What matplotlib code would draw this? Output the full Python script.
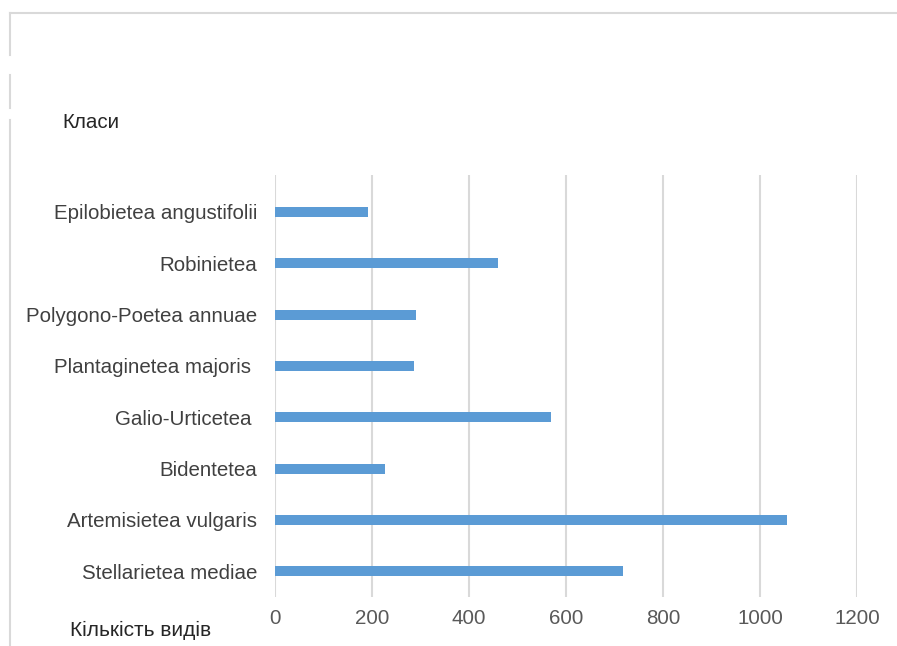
import matplotlib.pyplot as plt
from matplotlib.lines import Line2D

classes = ['Stellarietea mediae', 'Artemisietea vulgaris', 'Bidentetea',
           'Galio-Urticetea ', 'Plantaginetea majoris ', 'Polygono-Poetea annuae',
           'Robinietea', 'Epilobietea angustifolii']
counts = [717, 1056, 227, 569, 287, 291, 460, 192]
xticks = [0, 200, 400, 600, 800, 1000, 1200]

plt.rcParams['font.family'] = ['Liberation Sans', 'DejaVu Sans']

fig = plt.figure(figsize=(8.97, 6.46), dpi=100)
ax = fig.add_axes([275 / 897, 1 - 597 / 646, 582 / 897, (597 - 175) / 646])

ypos = list(range(len(classes)))
ax.barh(ypos, counts, height=0.2, color='#5b9bd5', zorder=3)
ax.set_xlim(0, 1200)
ax.set_ylim(-0.5, 7.72)
ax.set_xticks(xticks)
ax.set_xticklabels([str(t) for t in xticks])
ax.set_yticks(ypos)
ax.set_yticklabels(classes)
ax.tick_params(axis='x', length=0, pad=9, labelsize=14.8, labelcolor='#595959')
ax.tick_params(axis='y', length=0, pad=13, labelsize=14.8, labelcolor='#404040')
ax.grid(axis='x', color='#d9d9d9', linewidth=1.5, zorder=0)
for s in ax.spines.values():
    s.set_visible(False)

fig.text(62 / 897, 1 - 123 / 646, 'Класи', fontsize=14.8, color='#262626', va='center')
fig.text(70 / 897, 1 - 630 / 646, 'Кількість видів', fontsize=15, color='#262626', va='center')

# outer frame pieces
fc = '#d9d9d9'
fig.add_artist(Line2D([10 / 897, 1], [1 - 13 / 646] * 2, color=fc, lw=1.5, transform=fig.transFigure))
for y0, y1 in [(13, 55), (75, 108), (120, 646)]:
    fig.add_artist(Line2D([10 / 897] * 2, [1 - y0 / 646, 1 - y1 / 646], color=fc, lw=1.5,
                          transform=fig.transFigure))

fig.savefig('out.png', dpi=100)
